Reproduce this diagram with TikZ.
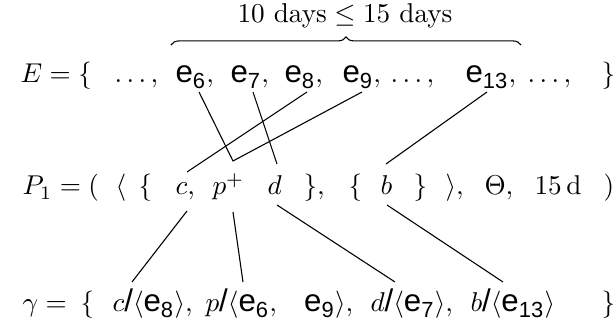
\documentclass[tikz,border=0pt]{standalone}
\usepackage{amsmath}
\usepackage{fontspec}
\newfontfamily\hv[Scale=1.15]{Liberation Sans}
\usetikzlibrary{decorations.pathreplacing}
\newcommand{\ev}[1]{\text{\hv e}_{\text{\hv #1}}}
\newcommand{\sla}{\text{\hv /}}
\begin{document}
\begin{tikzpicture}[x=0.3676pt,y=-0.3676pt,
  tok/.style={inner sep=0pt,anchor=base west},
  conn/.style={line width=0.4pt}]
\useasboundingbox (0,0) rectangle (616,326);
% caption and brace
\node[inner sep=0pt,anchor=base] (cap) at (345,23) {$10\text{ days}\leq 15\text{ days}$};
\coordinate (bl) at (171,45);
\coordinate (brr) at (521,45);
\draw[decorate,decoration={brace,amplitude=3pt}] (bl) -- (brr);
% E row
\node[tok] (Eeq) at (20,83) {$E=\{$};
\node[tok] (Ed1) at (114,83) {$\ldots,$};
\node[tok] (e6) at (175,83) {$\ev{6},$};
\node[tok] (e7) at (230,83) {$\ev{7},$};
\node[tok] (e8) at (284,83) {$\ev{8},$};
\node[tok] (e9) at (342,83) {$\ev{9},$};
\node[tok] (Ed2) at (390,83) {$\ldots,$};
\node[tok] (e13) at (465,83) {$\ev{13},$};
\node[tok] (Ed3) at (527,83) {$\ldots,$};
\node[tok] (Erb) at (601,83) {$\}$};
% P row
\node[tok] (Peq) at (22,195) {$P_1=($};
\node[tok] (lang) at (115,195) {$\langle$};
\node[tok] (lb1) at (138,195) {$\{$};
\node[tok] (c) at (175,195) {$c,$};
\node[tok] (p) at (212,195) {$p^+$};
\node[tok] (d) at (267,195) {$d$};
\node[tok] (rb1) at (303,195) {$\},$};
\node[tok] (lb2) at (348,195) {$\{$};
\node[tok] (b) at (380,195) {$b$};
\node[tok] (rb2) at (413,195) {$\}$};
\node[tok] (rang) at (445,195) {$\rangle,$};
\node[tok] (Th) at (484,195) {$\Theta,$};
\node[tok] (dur) at (534,195) {$15\,\mathrm{d}$};
\node[tok] (rp) at (603,195) {$)$};
% gamma row
\node[tok] (Geq) at (22,312) {$\gamma=$};
\node[tok] (Glb) at (80,312) {$\{$};
\node[tok] (gc) at (112,312) {$c\sla\langle\ev{8}\rangle,$};
\node[tok] (gp) at (205,312) {$p\sla\langle\ev{6},\;\;\;\ev{9}\rangle,$};
\node[tok] (gd) at (370,312) {$d\sla\langle\ev{7}\rangle,$};
\node[tok] (gb) at (470,312) {$b\sla\langle\ev{13}\rangle$};
\node[tok] (Grb) at (601,312) {$\}$};
% connectors E -> P
\coordinate (v) at (233,161);
\draw[conn] ([shift={(24,9)}]e6.base west) -- (v) -- ([shift={(20,9)}]e9.base west);
\draw[conn] ([shift={(23,9)}]e7.base west) -- ([shift={(10,-31)}]d.base west);
\draw[conn] ([shift={(23,9)}]e8.base west) -- ([shift={(12,-23)}]c.base west);
\draw[conn] ([shift={(22,9)}]e13.base west) -- ([shift={(6,-31)}]b.base west);
% connectors P -> gamma
\draw[conn] ([shift={(12,16)}]c.base west) -- ([shift={(20,-30)}]gc.base west);
\draw[conn] ([shift={(21,17)}]p.base west) -- ([shift={(38,-30)}]gp.base west);
\draw[conn] ([shift={(10,10)}]d.base west) -- ([shift={(25,-30)}]gd.base west);
\draw[conn] ([shift={(7,10)}]b.base west) -- ([shift={(33,-30)}]gb.base west);
\end{tikzpicture}
\end{document}
